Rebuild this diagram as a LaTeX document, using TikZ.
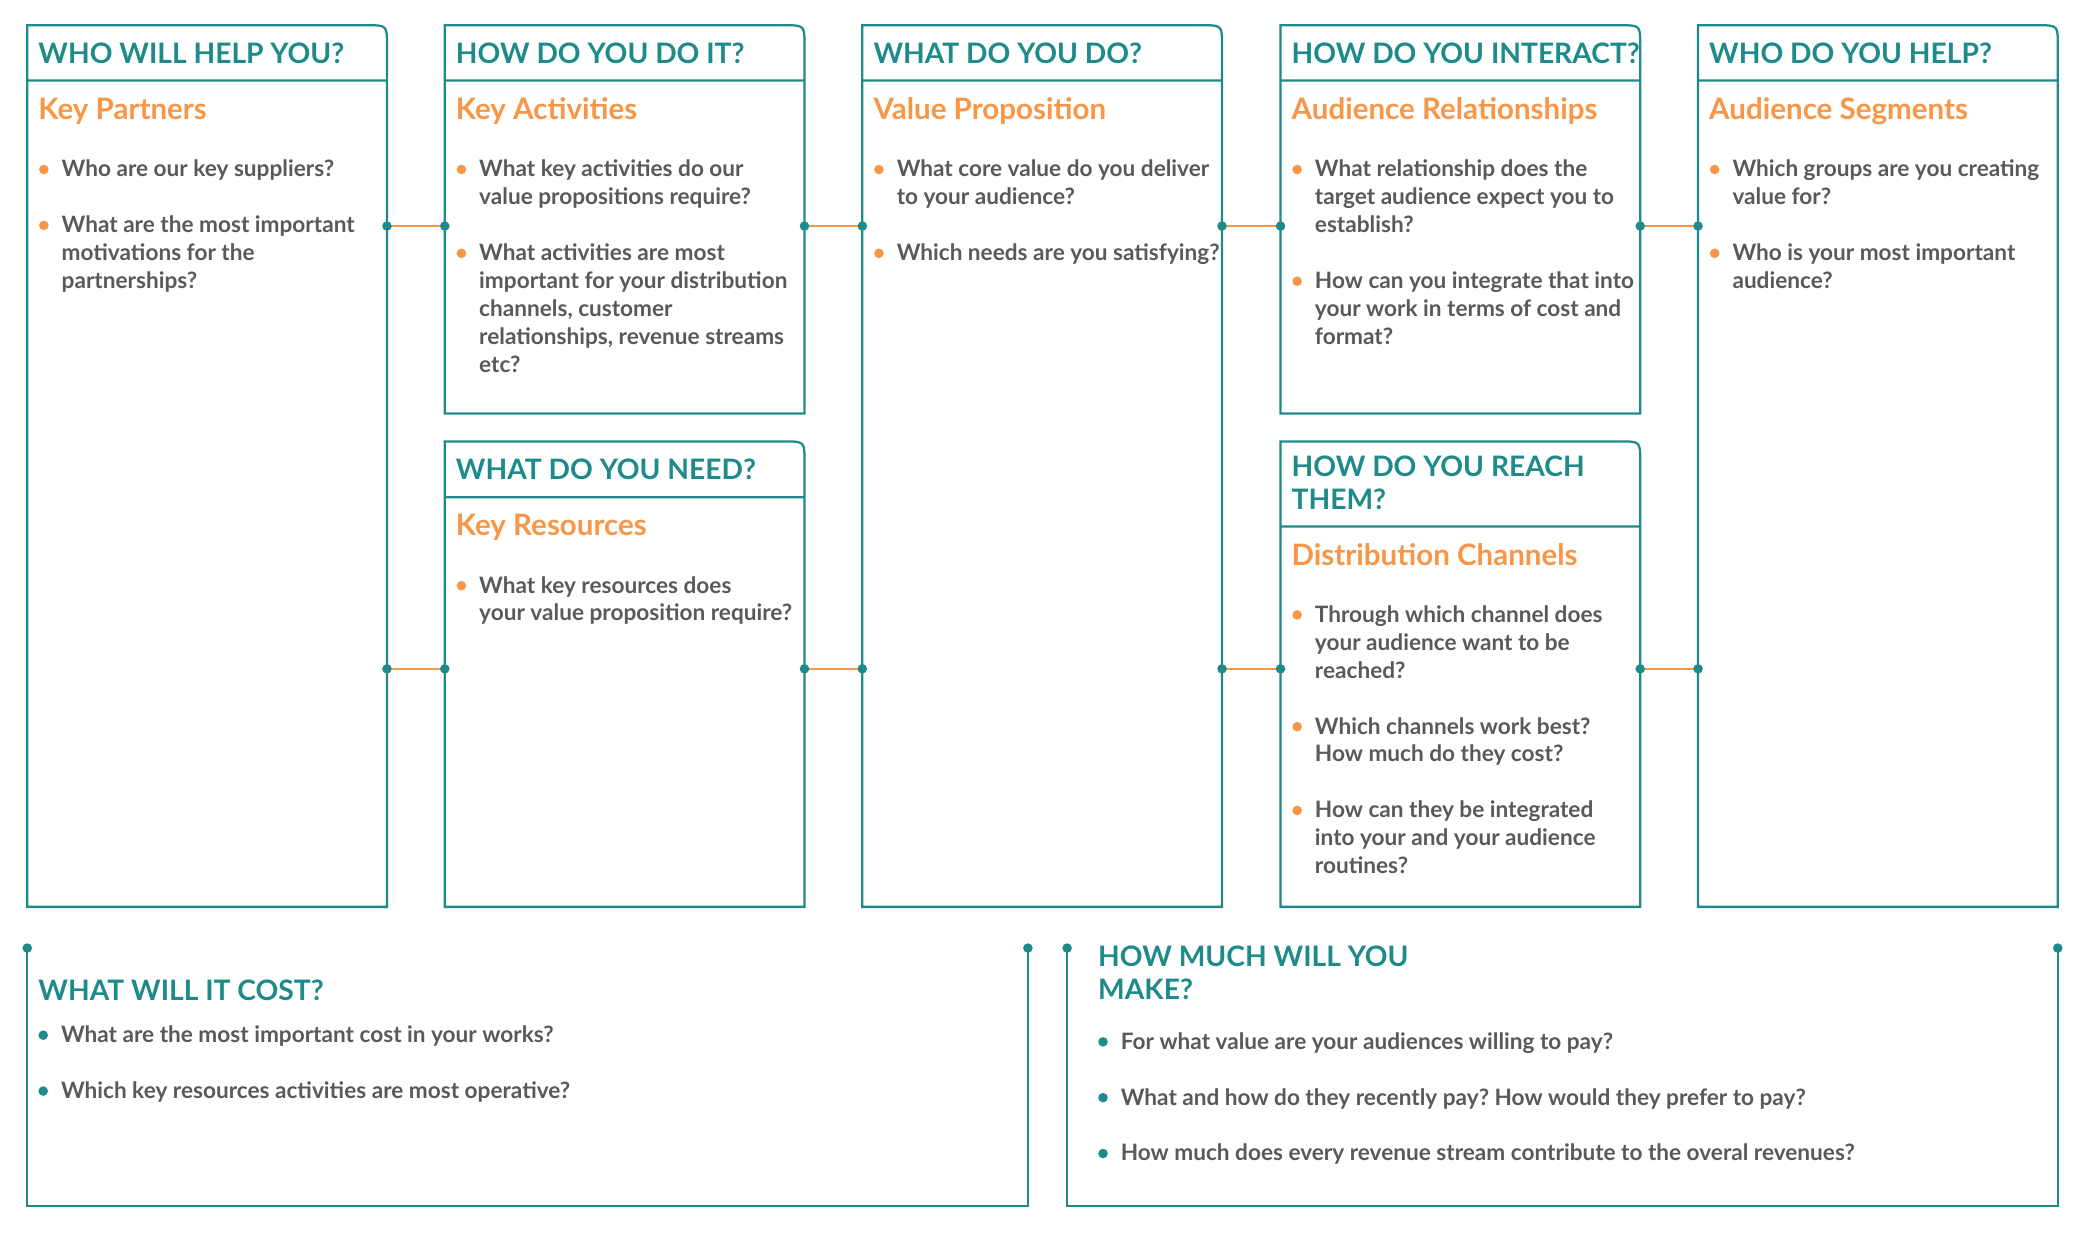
\documentclass[tikz,border=0pt]{standalone}
\usepackage{fontspec}
\setmainfont{Lato}
\frenchspacing

\definecolor{canvasteal}{HTML}{1E8B8A}
\definecolor{canvasorange}{HTML}{F79646}
\definecolor{canvasgray}{HTML}{595959}

\newcommand\qlines[1]{\parbox[t]{300pt}{\raggedright #1}}

\begin{document}
\begin{tikzpicture}[
        x=0.5pt, y=-0.5pt,
        frame/.style={rectangle, inner sep=0pt, outer sep=0pt, anchor=north west, minimum width=135.25pt},
        panel/.style={draw=canvasteal, line width=0.85pt},
        ask/.style={anchor=base west, inner sep=0pt, text=canvasteal, font=\fontsize{10.6}{12.5}\selectfont\bfseries},
        block/.style={anchor=base west, inner sep=0pt, text=canvasorange, font=\fontsize{11.1}{12.5}\selectfont\bfseries},
        question/.style={anchor=base west, inner sep=0pt, text=canvasgray, font=\fontsize{8.5}{10.5}\selectfont\bfseries},
        link/.style={draw=canvasorange, line width=0.75pt},
        joint/.style={fill=canvasteal}
    ]
        \useasboundingbox (0,0) rectangle (1568,929.5);

        % canvas panels
        \node[frame, minimum height=331.5pt] (partners) at (20.5,19) {};
        \node[frame, minimum height=146pt] (activities) at (334.5,19) {};
        \node[frame, minimum height=331.5pt] (value) at (648.5,19) {};
        \node[frame, minimum height=146pt] (relations) at (963,19) {};
        \node[frame, minimum height=331.5pt] (segments) at (1277,19) {};
        \node[frame, minimum height=175pt] (resources) at (334.5,332) {};
        \node[frame, minimum height=175pt] (channels) at (963,332) {};
        \node[frame, minimum width=376.25pt, minimum height=97pt] (cost) at (20.5,713) {};
        \node[frame, minimum width=372.5pt, minimum height=97pt] (revenue) at (802.5,713) {};

        \foreach \p/\hd in {partners/20.75pt, activities/20.75pt, value/20.75pt, relations/20.75pt,
            segments/20.75pt, resources/21pt, channels/32pt} {
            \draw[panel] (\p.south west) -- (\p.north west) -- ([xshift=-7.5pt]\p.north east)
                .. controls (\p.north east) .. ([yshift=-7.5pt]\p.north east) -- (\p.south east) -- cycle
                ([yshift=-\hd]\p.north west) -- ([yshift=-\hd]\p.north east);
        }
        \foreach \p in {cost, revenue} {
            \draw[panel] (\p.north west) -- (\p.south west) -- (\p.south east) -- (\p.north east);
            \fill[joint] (\p.north west) circle (1.8pt) (\p.north east) circle (1.8pt);
        }

        % links between panels
        \foreach \a/\b/\y in {partners/activities/170, activities/value/170, value/relations/170,
            relations/segments/170, partners/resources/503, resources/value/503,
            value/channels/503, channels/segments/503} {
            \draw[link] (\a.east |- 0,\y) coordinate (l) -- (\b.west |- 0,\y) coordinate (r);
            \fill[joint] (l) circle (1.8pt) (r) circle (1.8pt);
        }

        % headings
        \node[ask] (partners-ask) at (28.5,47.5) {WHO WILL HELP YOU?};
        \node[ask] (activities-ask) at (342.5,47.5) {HOW DO YOU DO IT?};
        \node[ask] (value-ask) at (656.5,47.5) {WHAT DO YOU DO?};
        \node[ask] (relations-ask) at (971,47.5) {HOW DO YOU INTERACT?};
        \node[ask] (segments-ask) at (1285,47.5) {WHO DO YOU HELP?};
        \node[ask] (resources-ask) at (342.5,360.3) {WHAT DO YOU NEED?};
        \node[ask] (channels-ask) at (971,358.5) {\qlines{HOW DO YOU REACH\\THEM?}};
        \node[ask] (cost-ask) at (28.5,752.6) {WHAT WILL IT COST?};
        \node[ask] (revenue-ask) at (825.5,727) {\qlines{HOW MUCH WILL YOU\\MAKE?}};

        \node[block] (partners-title) at (28.5,90) {Key Partners};
        \node[block] (activities-title) at (342.5,90) {Key Activities};
        \node[block] (value-title) at (656.5,90) {Value Proposition};
        \node[block] (relations-title) at (971,90) {Audience Relationships};
        \node[block] (segments-title) at (1285,90) {Audience Segments};
        \node[block] (resources-title) at (342.5,403) {Key Resources};
        \node[block] (channels-title) at (971,425.5) {Distribution Channels};

        % questions
        \foreach \q/\x/\y/\txt in {
            kp1/46/133/{Who are our key suppliers?},
            kp2/46/175/{What are the most important\\motivations for the\\partnerships?},
            ka1/360/133/{What key activities do our\\value propositions require?},
            ka2/360/196/{What activities are most\\important for your distribution\\channels, customer\\relationships, revenue streams\\etc?},
            vp1/674/133/{What core value do you deliver\\to your audience?},
            vp2/674/196/{Which needs are you satisfying?},
            ar1/988.5/133/{What relationship does the\\target audience expect you to\\establish?},
            ar2/988.5/217/{How can you integrate that into\\your work in terms of cost and\\format?},
            as1/1302.5/133/{Which groups are you creating\\value for?},
            as2/1302.5/196/{Who is your most important\\audience?},
            kr1/360/446/{What key resources does\\your value proposition require?},
            dc1/988.5/468/{Through which channel does\\your audience want to be\\reached?},
            dc2/988.5/552/{Which channels work best?\\How much do they cost?},
            dc3/988.5/615/{How can they be integrated\\into your and your audience\\routines?},
            c1/45.5/784/{What are the most important cost in your works?},
            c2/45.5/826/{Which key resources activities are most operative?},
            r1/842.5/789/{For what value are your audiences willing to pay?},
            r2/842.5/831/{What and how do they recently pay? How would they prefer to pay?},
            r3/842.5/873/{How much does every revenue stream contribute to the overal revenues?}
        } {
            \node[question] (\q) at (\x,\y) {\qlines{\txt}};
        }
        \foreach \q in {kp1, kp2, ka1, ka2, vp1, vp2, ar1, ar2, as1, as2, kr1, dc1, dc2, dc3}
            \fill[canvasorange] ([shift={(-13,-5.5)}]\q.base west) circle (1.8pt);
        \foreach \q in {c1, c2, r1, r2, r3}
            \fill[canvasteal] ([shift={(-13,-5.5)}]\q.base west) circle (1.8pt);
    \end{tikzpicture}
\end{document}
